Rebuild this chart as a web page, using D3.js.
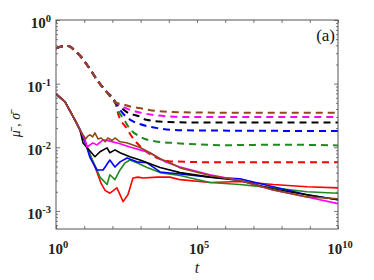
<!DOCTYPE html>
<html><head><meta charset="utf-8">
<script src="https://cdn.jsdelivr.net/npm/d3@7"></script>
<style>body{margin:0;background:#fff}svg{display:block}</style>
</head><body><svg id="c" width="374" height="280"></svg>
<script>
// ---- data: points are [log10(t), value] ----
const xTickExps = [0,1,2,3,4,5,6,7,8,9,10];
const xLabelExps = [0,5,10];
const yLabelExps = [0,-1,-2,-3];
const seriesNames = ["red","green","blue","black","magenta","brown"];
const seriesColors = ["#ff0000","#1f8a1f","#0000ff","#000000","#ff00ff","#8b4a16"];

// dashed (sigma) common early part
const sigmaCommon = [[0,0.36],[0.2,0.385],[0.43,0.39],[0.7,0.32],[0.93,0.25],[1.2,0.17],[1.5,0.107],[1.8,0.074],[2.1,0.051]];
const sigmaRed     = [[2.2,0.034],[2.5,0.020],[2.75,0.0135],[3.0,0.0102],[3.45,0.0073],[3.8,0.0063],[4.1,0.006],[6,0.0058],[10,0.0058]];
const sigmaGreen   = [[2.2,0.038],[2.4,0.028],[2.6,0.020],[3.0,0.0145],[3.5,0.0124],[4.3,0.0116],[6,0.0108],[8,0.011],[10,0.0107]];
const sigmaBlue    = [[2.25,0.040],[2.4,0.033],[2.7,0.026],[3.0,0.023],[3.6,0.020],[4.5,0.0185],[10,0.018]];
const sigmaBlack   = [[2.3,0.042],[2.5,0.036],[3.0,0.030],[3.2,0.027],[4,0.025],[5,0.0245],[10,0.0245]];
const sigmaMagenta = [[2.3,0.045],[2.6,0.039],[3.0,0.035],[3.5,0.032],[4.5,0.030],[6,0.0298],[10,0.0298]];
const sigmaBrown   = [[2.4,0.047],[2.6,0.044],[3.0,0.041],[3.6,0.037],[4.5,0.0355],[6,0.035],[8,0.035],[10,0.035]];

// solid (mu) common early part
const muCommon = [[0,0.069],[0.32,0.0516],[0.67,0.0269],[0.85,0.0188]];
const muRed = [[1.03,0.0122],[1.21,0.0076],[1.45,0.0041],[1.6,0.0027],[1.74,0.0021],[1.91,0.0019],[2.16,0.0023],[2.38,0.0014],[2.55,0.0018],[2.73,0.0033],[2.91,0.0034],[3.09,0.0033],[3.58,0.0034],[4.04,0.0034],[4.4,0.0031],[5.46,0.0028],[6.52,0.0029],[7.7,0.0026],[8.9,0.0024],[10,0.0023]];
const muGreen = [[1.03,0.0122],[1.21,0.0076],[1.38,0.0052],[1.56,0.0034],[1.81,0.0026],[1.91,0.0037],[2.09,0.0031],[2.27,0.0044],[2.45,0.0057],[2.62,0.0063],[2.87,0.0057],[3.23,0.0048],[3.69,0.0040],[4.4,0.0036],[5.46,0.0028],[6.52,0.0026],[7.7,0.0023],[8.9,0.0020],[10,0.0019]];
const muBlue = [[1.03,0.0122],[1.21,0.0068],[1.45,0.0044],[1.67,0.0044],[1.91,0.0063],[2.09,0.0049],[2.27,0.0059],[2.52,0.0068],[2.87,0.0059],[3.23,0.0057],[3.69,0.0041],[4.4,0.0038],[5.46,0.0034],[6.52,0.0032],[7.7,0.0024],[8.9,0.0018],[10,0.0015]];
const muBlack = [[0.96,0.0117],[1.38,0.0071],[1.56,0.0085],[1.81,0.0098],[1.91,0.0082],[2.09,0.0091],[2.27,0.0082],[2.62,0.0071],[2.98,0.0063],[3.69,0.0048],[4.4,0.0040],[5.46,0.0034],[6.52,0.0030],[7.7,0.0022],[8.9,0.0018],[10,0.0015]];
const muMagenta = [[1.03,0.0131],[1.10,0.0101],[1.31,0.0117],[1.45,0.0109],[1.67,0.0131],[1.91,0.0125],[2.27,0.0114],[2.62,0.0101],[2.98,0.0091],[3.33,0.0082],[3.87,0.0059],[4.4,0.0049],[5.46,0.0037],[6.52,0.0030],[7.7,0.00214],[8.9,0.00166],[10,0.0013]];
const muBrown = [[0.96,0.0157],[1.05,0.0135],[1.13,0.0150],[1.21,0.0157],[1.3,0.0146],[1.38,0.0168],[1.49,0.0135],[1.6,0.0140],[1.74,0.0122],[1.84,0.0140],[1.99,0.0128],[2.09,0.0140],[2.27,0.0122],[2.5,0.0118],[2.73,0.0109],[2.98,0.0099],[3.33,0.0082],[3.69,0.0066],[4.04,0.0057],[4.4,0.00475],[5.46,0.0036],[6.52,0.0030],[7.7,0.00214],[8.9,0.00166],[10,0.00155]];

const sigmaTails = [sigmaRed,sigmaGreen,sigmaBlue,sigmaBlack,sigmaMagenta,sigmaBrown];
const muTails = [muRed,muGreen,muBlue,muBlack,muMagenta,muBrown];

// ---- drawing ----
const svg = d3.select("#c");
const L=56,R=338,T=20,B=229;
const x = d3.scaleLog().domain([1,1e10]).range([L,R]);
const y = d3.scaleLog().domain([5.2e-4,1]).range([B,T]);
const axisCol = "#555";
const SERIF = "Liberation Serif";

svg.append("clipPath").attr("id","cp").append("rect").attr("x",L).attr("y",T).attr("width",R-L).attr("height",B-T);
const plot = svg.append("g").attr("clip-path","url(#cp)");

const lineSmooth = d3.line().x(d=>x(Math.pow(10,d[0]))).y(d=>y(d[1])).curve(d3.curveMonotoneX);
const lineRough = d3.line().x(d=>x(Math.pow(10,d[0]))).y(d=>y(d[1]));

sigmaTails.forEach((tail,i)=>{
  plot.append("path").attr("d",lineSmooth(sigmaCommon.concat(tail)))
    .attr("fill","none").attr("stroke",seriesColors[i]).attr("stroke-width",2)
    .attr("stroke-dasharray","7,5");
});
muTails.forEach((tail,i)=>{
  plot.append("path").attr("d",lineRough(muCommon.concat(tail)))
    .attr("fill","none").attr("stroke",seriesColors[i]).attr("stroke-width",1.6)
    .attr("stroke-linejoin","round");
});

// axes box
const ax = svg.append("g");
const xMajor = xTickExps.map(e=>Math.pow(10,e));
const yMajor = [], yMinor = [];
for (let e=-4;e<=0;e++){ yMajor.push(Math.pow(10,e)); for(let k=2;k<=9;k++) yMinor.push(k*Math.pow(10,e)); }
const inY = v => v>=5.2e-4 && v<=1;
function styleAxis(g){ g.select(".domain").remove(); g.selectAll("line").attr("stroke",axisCol).attr("stroke-width",0.8); g.selectAll("text").remove(); }
ax.append("g").attr("transform",`translate(0,${B})`).call(d3.axisBottom(x).tickValues(xMajor).tickSize(-3).tickFormat("")).call(styleAxis);
ax.append("g").attr("transform",`translate(0,${T})`).call(d3.axisTop(x).tickValues(xMajor).tickSize(-3).tickFormat("")).call(styleAxis);
ax.append("g").attr("transform",`translate(${L},0)`).call(d3.axisLeft(y).tickValues(yMajor.filter(inY)).tickSize(-4).tickFormat("")).call(styleAxis);
ax.append("g").attr("transform",`translate(${L},0)`).call(d3.axisLeft(y).tickValues(yMinor.filter(inY)).tickSize(-2).tickFormat("")).call(styleAxis);
ax.append("g").attr("transform",`translate(${R},0)`).call(d3.axisRight(y).tickValues(yMajor.filter(inY)).tickSize(-4).tickFormat("")).call(styleAxis);
ax.append("g").attr("transform",`translate(${R},0)`).call(d3.axisRight(y).tickValues(yMinor.filter(inY)).tickSize(-2).tickFormat("")).call(styleAxis);
ax.append("rect").attr("x",L).attr("y",T).attr("width",R-L).attr("height",B-T).attr("fill","none").attr("stroke",axisCol).attr("stroke-width",1);

// tick labels
function pow10Label(g, e, px, py, anchor){
  const t = g.append("text").attr("x",px).attr("y",py).attr("text-anchor",anchor)
    .attr("font-family",SERIF).attr("font-weight",700).attr("font-size",15).attr("fill","#222");
  t.append("tspan").text("10");
  t.append("tspan").attr("dy",-6).attr("font-size",10.5).text(String(e));
}
xLabelExps.forEach(e=>pow10Label(svg,e,x(Math.pow(10,e))+2,254,"middle"));
yLabelExps.forEach(e=>pow10Label(svg,e,51,y(Math.pow(10,e))+8,"end"));

// axis titles
svg.append("text").attr("x",197).attr("y",273).attr("text-anchor","middle")
  .attr("font-family",SERIF).attr("font-style","italic").attr("font-size",16).attr("fill","#222").text("t");
svg.append("text").attr("transform","translate(20,125) rotate(-90)").attr("text-anchor","middle")
  .attr("font-family",SERIF).attr("font-style","italic").attr("font-size",14).attr("fill","#222").text("\u03BC\u0304 , \u03C3\u0304");
svg.append("text").attr("x",335).attr("y",41).attr("text-anchor","end")
  .attr("font-family",SERIF).attr("font-size",17).attr("fill","#111").text("(a)");
</script></body></html>
